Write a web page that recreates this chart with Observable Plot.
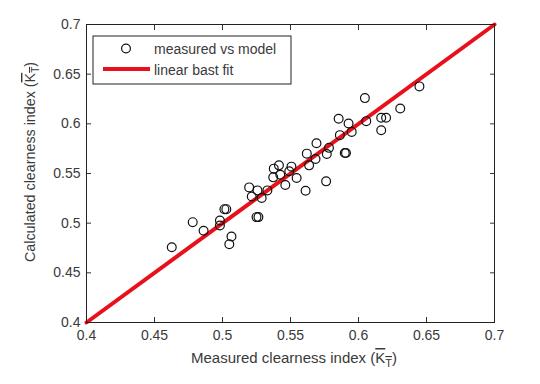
<!DOCTYPE html>
<html><head><meta charset="utf-8">
<script src="https://cdn.jsdelivr.net/npm/d3@7"></script>
<script src="https://cdn.jsdelivr.net/npm/@observablehq/plot@0.6"></script>
<style>
body{margin:0;background:#fff;}
svg{font-family:"Liberation Sans",Arial,sans-serif;}
</style></head>
<body><div id="chart"></div>
<script>
const measured = [0.4627,0.4781,0.4861,0.4981,0.4981,0.5014,0.5028,0.5050,0.5066,0.5196,0.5215,0.5250,0.5264,0.5257,0.5288,0.5330,0.5377,0.5373,0.5415,0.5425,0.5462,0.5491,0.5507,0.5545,0.5611,0.5620,0.5637,0.5684,0.5691,0.5762,0.5767,0.5783,0.5854,0.5863,0.5899,0.5908,0.5927,0.5950,0.6047,0.6057,0.6167,0.6203,0.6167,0.6307,0.6448];
const model    = [0.4758,0.5010,0.4923,0.5027,0.4976,0.5141,0.5141,0.4788,0.4865,0.5360,0.5269,0.5061,0.5061,0.5330,0.5253,0.5330,0.5549,0.5461,0.5582,0.5488,0.5384,0.5522,0.5569,0.5455,0.5327,0.5700,0.5582,0.5646,0.5805,0.5421,0.5697,0.5758,0.6051,0.5886,0.5707,0.5707,0.6003,0.5919,0.6259,0.6027,0.6061,0.6061,0.5936,0.6155,0.6377];
const fitX = [0.4, 0.7];
const fitY = [0.4, 0.7];
const ticks = [0.4,0.45,0.5,0.55,0.6,0.65,0.7];
const legendLabels = ["measured vs model","linear bast fit"];

const points = measured.map((m,i)=>({m, c: model[i]}));
const fit = fitX.map((x,i)=>({x, y: fitY[i]}));
const fmt = d3.format("~g");
const blank = () => "";

const plot = Plot.plot({
  width: 540, height: 384,
  marginLeft: 86, marginRight: 46, marginTop: 24, marginBottom: 62,
  style: {fontSize: "14px", color: "#3a3a3a", fontFamily: '"Liberation Sans",Arial,sans-serif'},
  x: {domain: [0.4, 0.7], ticks, tickFormat: fmt},
  y: {domain: [0.4, 0.7], ticks, tickFormat: fmt},
  marks: [
    Plot.axisX({ticks, tickFormat: fmt, tickSize: -5, tickPadding: 13, label: null, stroke: "#333"}),
    Plot.axisX({anchor: "top", ticks, tickFormat: blank, tickSize: -5, label: null, stroke: "#333"}),
    Plot.axisY({ticks, tickFormat: fmt, tickSize: -5, tickPadding: 11, label: null, stroke: "#333"}),
    Plot.axisY({anchor: "right", ticks, tickFormat: blank, tickSize: -5, label: null, stroke: "#333"}),
    Plot.line(fit, {x: "x", y: "y", stroke: "#e8111b", strokeWidth: 4}),
    Plot.dot(points, {x: "m", y: "c", r: 4.4, stroke: "#111", strokeWidth: 1.2, fill: "none"}),
    Plot.frame({stroke: "#222", strokeWidth: 1})
  ]
});
document.getElementById("chart").appendChild(plot);

const svg = d3.select(plot);
const font = '"Liberation Sans",Arial,sans-serif';
// axis labels
const xl = svg.append("text").attr("x", 294).attr("y", 363).attr("text-anchor","middle")
  .attr("font-size", 15).attr("fill", "#3a3a3a").attr("font-family", font);
xl.append("tspan").text("Measured clearness index (");
xl.append("tspan").attr("style","text-decoration:overline").text("K");
xl.append("tspan").attr("style","text-decoration:overline").attr("font-size",11).attr("dy",4).text("T");
xl.append("tspan").attr("dy",-4).text(")");

const yl = svg.append("text").attr("transform","translate(35,162) rotate(-90)").attr("text-anchor","middle")
  .attr("font-size", 14.3).attr("fill", "#3a3a3a").attr("font-family", font);
yl.append("tspan").text("Calculated clearness index (");
yl.append("tspan").attr("style","text-decoration:overline").text("K");
yl.append("tspan").attr("style","text-decoration:overline").attr("font-size",10).attr("dy",4).text("T");
yl.append("tspan").attr("dy",-4).text(")");

// legend
const lg = svg.append("g").attr("text-anchor","start");
lg.append("rect").attr("x",93).attr("y",36).attr("width",198).attr("height",48)
  .attr("fill","#fff").attr("stroke","#222").attr("stroke-width",1);
lg.append("circle").attr("cx",126).attr("cy",48.5).attr("r",4.4).attr("fill","none").attr("stroke","#111").attr("stroke-width",1.2);
lg.append("line").attr("x1",103).attr("x2",150).attr("y1",69).attr("y2",69).attr("stroke","#e8111b").attr("stroke-width",4);
lg.append("text").attr("x",154).attr("y",53.5).attr("font-size",14).attr("fill","#3a3a3a").attr("font-family",font).text(legendLabels[0]);
lg.append("text").attr("x",154).attr("y",74.5).attr("font-size",14).attr("fill","#3a3a3a").attr("font-family",font).text(legendLabels[1]);
</script></body></html>
